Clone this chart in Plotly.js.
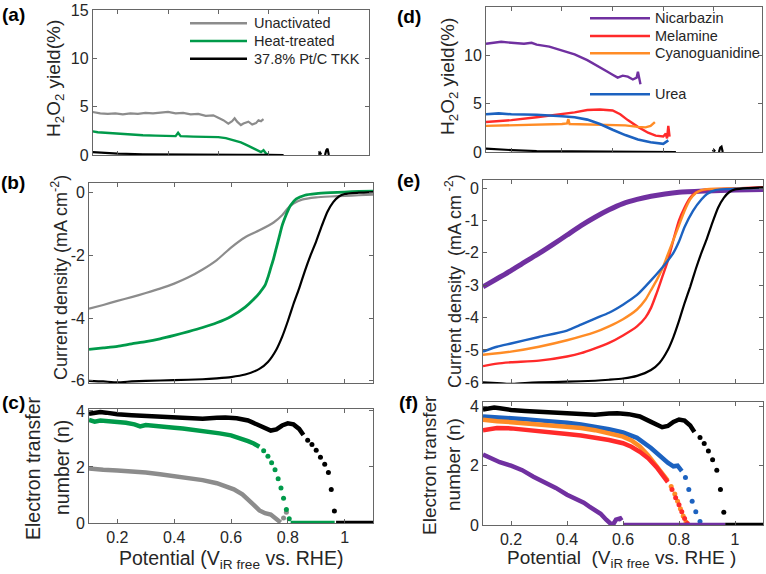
<!DOCTYPE html>
<html>
<head>
<meta charset="utf-8">
<script src="https://cdn.plot.ly/plotly-3.0.1.min.js"></script>
<style>
  html, body { margin: 0; padding: 0; background: #ffffff; }
  #chart { width: 766px; height: 574px; }
</style>
</head>
<body>
<div id="chart"></div>
<script>
// ---------- (a) H2O2 yield, catalyst treatment ----------
const aUnactX = [0.10,0.13,0.16,0.19,0.22,0.25,0.28,0.31,0.34,0.37,0.40,0.43,0.46,0.49,0.52,0.55,0.58,0.60,0.62,0.64,0.655,0.665,0.675,0.69,0.70,0.72,0.735,0.75,0.76,0.77,0.78];
const aUnactY = [4.45,4.30,4.25,4.30,4.20,4.30,4.25,4.35,4.30,4.40,4.45,4.30,4.35,4.20,4.25,4.05,4.10,3.85,3.60,3.25,3.50,3.80,3.45,3.10,3.25,3.45,3.15,3.30,3.60,3.50,3.70];
const aHeatX = [0.10,0.12,0.15,0.20,0.25,0.30,0.35,0.40,0.43,0.44,0.45,0.50,0.55,0.60,0.63,0.66,0.69,0.72,0.74,0.76,0.77,0.78,0.79,0.80];
const aHeatY = [2.45,2.35,2.30,2.20,2.10,2.05,2.00,1.95,1.95,2.30,1.95,1.90,1.90,1.85,1.75,1.55,1.30,0.95,0.70,0.50,0.30,0.50,0.15,0.05];
const aPtX = [0.10,0.13,0.16,0.20,0.30,0.40,0.50,0.60,0.70,0.80,0.86,null,1.000,1.005,1.010,null,1.025,1.030,1.035,1.040];
const aPtY = [0.30,0.25,0.20,0.15,0.08,0.05,0.04,0.03,0.02,0.01,0.00,null,0.05,0.25,0.05,null,0.00,0.50,0.65,0.00];

// ---------- (b) current density, catalyst treatment ----------
const bUnactX = [0.10,0.15,0.20,0.25,0.30,0.35,0.40,0.45,0.50,0.55,0.60,0.65,0.70,0.75,0.78,0.80,0.82,0.85,0.90,0.95,1.00,1.05,1.10];
const bUnactY = [-3.70,-3.58,-3.45,-3.33,-3.20,-3.06,-2.90,-2.70,-2.45,-2.15,-1.75,-1.42,-1.20,-0.95,-0.72,-0.50,-0.35,-0.22,-0.15,-0.12,-0.10,-0.08,-0.06];
const bHeatX = [0.10,0.15,0.20,0.25,0.30,0.35,0.40,0.45,0.50,0.55,0.60,0.65,0.68,0.70,0.72,0.73,0.74,0.75,0.76,0.77,0.78,0.79,0.80,0.81,0.83,0.86,0.90,0.95,1.00,1.05,1.10];
const bHeatY = [-5.00,-4.95,-4.90,-4.82,-4.75,-4.66,-4.55,-4.43,-4.30,-4.15,-3.95,-3.65,-3.40,-3.20,-2.95,-2.70,-2.40,-2.10,-1.75,-1.40,-1.05,-0.80,-0.58,-0.40,-0.20,-0.08,-0.03,0.00,0.02,0.04,0.05];
const bPtX = [0.10,0.15,0.20,0.25,0.30,0.40,0.50,0.55,0.60,0.65,0.70,0.73,0.76,0.78,0.80,0.82,0.84,0.86,0.88,0.90,0.92,0.94,0.96,0.98,1.00,1.05,1.10];
const bPtY = [-6.00,-6.02,-6.05,-6.02,-6.00,-5.98,-5.95,-5.92,-5.88,-5.80,-5.62,-5.40,-5.00,-4.60,-4.10,-3.55,-3.05,-2.50,-2.00,-1.55,-1.05,-0.60,-0.30,-0.12,-0.04,0.00,0.02];

// ---------- (c) electron transfer number, catalyst treatment ----------
const cPtX = [0.10,0.12,0.14,0.16,0.18,0.20,0.25,0.30,0.35,0.40,0.45,0.50,0.55,0.58,0.62,0.66,0.70,0.72,0.74,0.76,0.78,0.80,0.82,0.84,0.855];
const cPtY = [3.90,3.93,3.96,3.94,3.90,3.88,3.85,3.82,3.79,3.76,3.73,3.72,3.76,3.77,3.74,3.66,3.48,3.37,3.30,3.34,3.48,3.56,3.52,3.36,3.14];
const cPtDotX = [0.870,0.885,0.900,0.915,0.930,0.943,0.953,0.964];
const cPtDotY = [2.95,2.80,2.60,2.35,2.10,1.80,1.20,0.43];
const cPtZeroX = [0.97,1.10];
const cPtZeroY = [0,0];
const cHeatX = [0.10,0.12,0.14,0.16,0.18,0.20,0.23,0.26,0.28,0.30,0.33,0.36,0.40,0.43,0.46,0.50,0.53,0.56,0.60,0.63,0.66,0.68,0.70];
const cHeatY = [3.68,3.62,3.66,3.65,3.63,3.62,3.58,3.52,3.45,3.50,3.46,3.44,3.40,3.37,3.34,3.30,3.26,3.20,3.13,3.04,2.92,2.84,2.72];
const cHeatDotX = [0.715,0.730,0.743,0.755,0.766,0.776,0.785,0.795,0.805];
const cHeatDotY = [2.58,2.38,2.15,1.90,1.58,1.25,0.88,0.48,0.15];
const cHeatZeroX = [0.81,0.965];
const cHeatZeroY = [0,0];
const cUnactX = [0.10,0.12,0.15,0.20,0.25,0.30,0.35,0.40,0.45,0.50,0.55,0.58,0.61,0.64,0.66,0.68,0.70,0.72,0.74,0.76,0.775];
const cUnactY = [1.95,1.92,1.90,1.87,1.85,1.80,1.74,1.68,1.62,1.53,1.42,1.33,1.20,1.02,0.85,0.65,0.45,0.35,0.30,0.12,0.02];
const cUnactDotX = [0.785,0.795];
const cUnactDotY = [0.18,0.38];

// ---------- (d) H2O2 yield, nitrogen precursors ----------
const dNicX = [0.10,0.13,0.16,0.20,0.25,0.28,0.30,0.35,0.40,0.45,0.50,0.55,0.58,0.60,0.62,0.64,0.66,0.68,0.695,0.70,0.705,0.71];
const dNicY = [11.2,11.3,11.4,11.3,11.2,11.3,11.1,10.9,10.5,10.1,9.5,8.8,8.3,8.0,7.7,7.9,7.8,7.5,7.7,8.3,7.6,7.0];
const dMelX = [0.10,0.20,0.30,0.40,0.45,0.50,0.55,0.60,0.63,0.66,0.70,0.74,0.77,0.80,0.81,0.815,0.82,0.825];
const dMelY = [3.1,3.3,3.6,3.9,4.1,4.35,4.4,4.3,3.9,3.3,2.6,2.0,1.7,1.6,1.9,1.4,2.7,1.6];
const dCyaX = [0.10,0.20,0.30,0.40,0.42,0.425,0.43,0.50,0.60,0.65,0.70,0.73,0.75,0.767];
const dCyaY = [2.7,2.75,2.85,2.9,2.95,3.4,2.9,2.85,2.85,2.75,2.6,2.55,2.7,3.1];
const dUreaX = [0.10,0.15,0.20,0.30,0.40,0.45,0.50,0.55,0.60,0.65,0.70,0.75,0.80,0.82];
const dUreaY = [3.9,4.0,3.9,3.85,3.7,3.6,3.35,2.9,2.3,1.75,1.3,1.0,0.85,1.2];
const dPtX = [0.10,0.15,0.20,0.30,0.50,0.70,0.80,0.85,null,0.995,1.000,1.005,null,1.020,1.025,1.030,1.035];
const dPtY = [0.35,0.25,0.20,0.10,0.05,0.05,0.02,0.00,null,0.05,0.20,0.05,null,0.00,0.45,0.55,0.00];

// ---------- (e) current density, nitrogen precursors ----------
const eNicX = [0.10,0.15,0.20,0.25,0.30,0.35,0.40,0.45,0.50,0.55,0.60,0.65,0.70,0.75,0.80,0.90,1.00,1.10];
const eNicY = [-3.05,-2.80,-2.55,-2.28,-2.02,-1.74,-1.45,-1.16,-0.90,-0.67,-0.48,-0.35,-0.25,-0.18,-0.13,-0.09,-0.06,-0.04];
const eMelX = [0.10,0.15,0.20,0.30,0.40,0.45,0.50,0.55,0.60,0.65,0.68,0.70,0.72,0.74,0.76,0.78,0.80,0.82,0.84,0.86,0.90,1.00,1.10];
const eMelY = [-5.50,-5.42,-5.38,-5.33,-5.20,-5.10,-4.95,-4.78,-4.55,-4.27,-4.00,-3.70,-3.25,-2.75,-2.25,-1.60,-1.00,-0.60,-0.30,-0.14,-0.04,-0.01,0.03];
const eCyaX = [0.10,0.20,0.30,0.40,0.50,0.55,0.60,0.65,0.68,0.70,0.72,0.74,0.76,0.78,0.80,0.82,0.84,0.86,0.88,0.90,1.00,1.10];
const eCyaY = [-5.15,-5.05,-4.90,-4.70,-4.45,-4.27,-4.05,-3.75,-3.45,-3.15,-2.85,-2.50,-2.05,-1.60,-1.15,-0.70,-0.35,-0.15,-0.06,-0.03,-0.01,0.00];
const eUreaX = [0.10,0.15,0.20,0.30,0.40,0.45,0.50,0.55,0.60,0.65,0.70,0.75,0.78,0.80,0.82,0.85,0.88,0.90,0.93,1.00,1.10];
const eUreaY = [-5.05,-4.90,-4.80,-4.60,-4.40,-4.22,-4.03,-3.85,-3.60,-3.30,-2.85,-2.35,-2.00,-1.65,-1.20,-0.70,-0.35,-0.18,-0.06,-0.02,0.00];
const ePtX = bPtX;
const ePtY = bPtY;

// ---------- (f) electron transfer number, nitrogen precursors ----------
const fPtX = cPtX, fPtY = cPtY, fPtDotX = [0.875,0.890,0.905,0.920,0.935,0.948,0.960], fPtDotY = [2.95,2.75,2.50,2.20,1.85,1.20,0.43];
const fPtZeroX = [0.965,1.10], fPtZeroY = [0,0];
const fUreaX = [0.10,0.15,0.20,0.25,0.30,0.35,0.40,0.45,0.50,0.55,0.60,0.65,0.70,0.73,0.76,0.78,0.795,0.81];
const fUreaY = [3.66,3.64,3.60,3.57,3.53,3.50,3.45,3.39,3.32,3.23,3.12,2.94,2.60,2.33,2.10,1.98,2.00,1.82];
const fUreaDotX = [0.823,0.835,0.847,0.860,0.875];
const fUreaDotY = [1.60,1.20,0.80,0.45,0.12];
const fCyaX = [0.10,0.12,0.15,0.20,0.25,0.30,0.35,0.40,0.45,0.50,0.55,0.60,0.63,0.66,0.69,0.72,0.74,0.76];
const fCyaY = [3.55,3.52,3.50,3.47,3.43,3.40,3.36,3.32,3.27,3.20,3.10,2.98,2.85,2.65,2.35,2.00,1.75,1.50];
const fCyaDotX = [0.772,0.785,0.795,0.805,0.815,0.825];
const fCyaDotY = [1.30,1.05,0.80,0.55,0.30,0.10];
const fMelX = [0.10,0.12,0.15,0.20,0.25,0.30,0.35,0.40,0.45,0.50,0.55,0.60,0.63,0.66,0.69,0.72,0.74,0.76];
const fMelY = [3.20,3.23,3.27,3.26,3.22,3.17,3.12,3.07,3.02,2.95,2.87,2.76,2.64,2.47,2.25,1.95,1.72,1.45];
const fMelDotX = [0.775,0.788,0.800,0.810,0.820,0.830];
const fMelDotY = [1.20,0.92,0.68,0.45,0.22,0.05];
const fNicX = [0.10,0.13,0.16,0.20,0.24,0.28,0.32,0.36,0.40,0.44,0.46,0.48,0.50,0.52,0.54,0.555,0.565,0.575,0.59,0.595];
const fNicY = [2.38,2.25,2.12,2.00,1.85,1.63,1.45,1.25,1.02,0.85,0.75,0.62,0.52,0.38,0.18,0.05,0.02,0.18,0.22,0.15];
const fNicZeroX = [0.60,0.965], fNicZeroY = [0,0];

// ---------- labels ----------
const legendA = ['Unactivated', 'Heat-treated', '37.8% Pt/C TKK'];
const legendD = ['Nicarbazin', 'Melamine', 'Cyanoguanidine', 'Urea'];
const panelTags = ['(a)', '(b)', '(c)', '(d)', '(e)', '(f)'];
const xTickVals = [0.2, 0.4, 0.6, 0.8, 1.0];
const xTickText = ['0.2', '0.4', '0.6', '0.8', '1'];

// ---------- styling ----------
const GRAY = '#8c8c8c', GREEN = '#009a4a', BLACK = '#000000';
const PURPLE = '#7030a0', RED = '#ff2a2a', ORANGE = '#ff8c26', BLUE = '#1c62c0';
const FONT = 'Liberation Sans, Arial, Helvetica, sans-serif';
const TXT = '#262626';
const AXC = '#555555';
const W = 766, H = 574;
const px = v => v / W;
const py = v => 1 - v / H;

function line(xa, ya, xs, ys, color, width, smooth) {
  const ln = { color: color, width: width };
  if (smooth) { ln.shape = 'spline'; ln.smoothing = 0.6; }
  return { x: xs, y: ys, xaxis: xa, yaxis: ya, type: 'scatter', mode: 'lines',
           line: ln, hoverinfo: 'skip', showlegend: false, connectgaps: false };
}
function dots(xa, ya, xs, ys, color, size) {
  return { x: xs, y: ys, xaxis: xa, yaxis: ya, type: 'scatter', mode: 'markers',
           marker: { color: color, size: size, line: { width: 0 } }, hoverinfo: 'skip', showlegend: false };
}

const traces = [
  // (a)
  line('x', 'y', aUnactX, aUnactY, GRAY, 2.2),
  line('x', 'y', aHeatX, aHeatY, GREEN, 2.4),
  line('x', 'y', aPtX, aPtY, BLACK, 2.2),
  // (b)
  line('x2', 'y2', bUnactX, bUnactY, GRAY, 2.2, true),
  line('x2', 'y2', bHeatX, bHeatY, GREEN, 2.8, true),
  line('x2', 'y2', bPtX, bPtY, BLACK, 2.2, true),
  // (c)
  line('x3', 'y3', cUnactX, cUnactY, GRAY, 4.5),
  dots('x3', 'y3', cUnactDotX, cUnactDotY, GRAY, 5),
  line('x3', 'y3', cHeatX, cHeatY, GREEN, 4.5),
  dots('x3', 'y3', cHeatDotX, cHeatDotY, GREEN, 5),
  line('x3', 'y3', cHeatZeroX, cHeatZeroY, GREEN, 4.5),
  line('x3', 'y3', cPtX, cPtY, BLACK, 4.5),
  dots('x3', 'y3', cPtDotX, cPtDotY, BLACK, 5),
  line('x3', 'y3', cPtZeroX, cPtZeroY, BLACK, 4.5),
  // (d)
  line('x4', 'y4', dNicX, dNicY, PURPLE, 2.4),
  line('x4', 'y4', dMelX, dMelY, RED, 2.4),
  line('x4', 'y4', dCyaX, dCyaY, ORANGE, 2.4),
  line('x4', 'y4', dUreaX, dUreaY, BLUE, 2.6),
  line('x4', 'y4', dPtX, dPtY, BLACK, 2.2),
  // (e)
  line('x5', 'y5', eNicX, eNicY, PURPLE, 5, true),
  line('x5', 'y5', eMelX, eMelY, RED, 2.4, true),
  line('x5', 'y5', eCyaX, eCyaY, ORANGE, 2.4, true),
  line('x5', 'y5', eUreaX, eUreaY, BLUE, 2.4, true),
  line('x5', 'y5', ePtX, ePtY, BLACK, 2.2, true),
  // (f)
  line('x6', 'y6', fUreaX, fUreaY, BLUE, 4.5),
  dots('x6', 'y6', fUreaDotX, fUreaDotY, BLUE, 5),
  line('x6', 'y6', fCyaX, fCyaY, ORANGE, 4.5),
  dots('x6', 'y6', fCyaDotX, fCyaDotY, ORANGE, 5),
  line('x6', 'y6', fMelX, fMelY, RED, 4.5),
  dots('x6', 'y6', fMelDotX, fMelDotY, RED, 5),
  line('x6', 'y6', fNicX, fNicY, PURPLE, 4.5),
  line('x6', 'y6', fNicZeroX, fNicZeroY, PURPLE, 4.5),
  line('x6', 'y6', fPtX, fPtY, BLACK, 4.5),
  dots('x6', 'y6', fPtDotX, fPtDotY, BLACK, 5),
  line('x6', 'y6', fPtZeroX, fPtZeroY, BLACK, 4.5)
];

// axis boxes: [left, right, top, bottom] in pixels
const boxes = {
  a: [92.7, 369, 10, 155], b: [89, 373, 183, 383], c: [89, 373, 409, 523],
  d: [486, 762, 7, 152],   e: [483, 763, 180, 383], f: [483, 763, 402, 525]
};
function xAxis(box, range, anchor, labels) {
  return { domain: [px(box[0]), px(box[1])], range: range, anchor: anchor,
           showline: true, mirror: 'ticks', linecolor: AXC, linewidth: 0.9,
           ticks: 'inside', ticklen: 4, tickwidth: 0.9, tickcolor: AXC,
           tickvals: xTickVals, ticktext: xTickText, showticklabels: labels,
           tickfont: { family: FONT, size: 16, color: TXT },
           showgrid: false, zeroline: false, fixedrange: true };
}
function yAxis(box, range, anchor, vals) {
  return { domain: [py(box[3]), py(box[2])], range: range, anchor: anchor,
           showline: true, mirror: 'ticks', linecolor: AXC, linewidth: 0.9,
           ticks: 'inside', ticklen: 4, tickwidth: 0.9, tickcolor: AXC,
           tickvals: vals, ticktext: vals.map(v => String(v)),
           tickfont: { family: FONT, size: 16, color: TXT },
           showgrid: false, zeroline: false, fixedrange: true };
}

const ann = [];
function text(x, y, t, size, opts) {
  ann.push(Object.assign({ xref: 'paper', yref: 'paper', x: px(x), y: py(y), text: t,
    showarrow: false, xanchor: 'center', yanchor: 'middle',
    font: { family: FONT, size: size, color: TXT } }, opts || {}));
}
// panel tags
const tagPos = [[13, 14], [13, 182], [13, 402], [409, 17], [409, 181], [409, 402]];
panelTags.forEach((t, i) => text(tagPos[i][0], tagPos[i][1], '<b>' + t + '</b>', 19, { font: { family: FONT, size: 19, color: '#000' } }));
// axis titles
text(55, 79, 'H<sub>2</sub>O<sub>2</sub> yield(%)', 19, { textangle: -90 });
text(449, 77, 'H<sub>2</sub>O<sub>2</sub> yield(%)', 19, { textangle: -90 });
text(59, 278, 'Current density (mA cm<sup>-2</sup>)', 18, { textangle: -90 });
text(453, 281, 'Current density\u00a0 (mA cm<sup> -2</sup>)', 18, { textangle: -90 });
text(33, 468, 'Electron transfer', 19.5, { textangle: -90 });
text(62, 468, 'number (n)', 19.5, { textangle: -90 });
text(429, 465, 'Electron transfer', 19, { textangle: -90 });
text(453, 465, 'number (n)', 19, { textangle: -90 });
text(231, 545, 'Potential (V<sub>iR free</sub> vs. RHE)', 19.5, { yanchor: 'top' });
text(621, 545, 'Potential\u00a0 (V<sub>iR free</sub> vs.\u00a0RHE\u00a0)', 19, { yanchor: 'top' });

// legends
const shapes = [];
const legA = [[legendA[0], GRAY, 23.3], [legendA[1], GREEN, 41], [legendA[2], BLACK, 58.7]];
legA.forEach(([t, c, y]) => {
  shapes.push({ type: 'line', xref: 'paper', yref: 'paper', x0: px(190), x1: px(247), y0: py(y), y1: py(y), line: { color: c, width: 2.4 } });
  text(252, y, t, 14.5, { xanchor: 'left' });
});
const legD = [[legendD[0], PURPLE, 18.3], [legendD[1], RED, 36], [legendD[2], ORANGE, 53.3], [legendD[3], BLUE, 94.3]];
legD.forEach(([t, c, y]) => {
  shapes.push({ type: 'line', xref: 'paper', yref: 'paper', x0: px(590), x1: px(650), y0: py(y), y1: py(y), line: { color: c, width: 2.4 } });
  text(653, y, t, 14.5, { xanchor: 'left' });
});

const layout = {
  width: W, height: H, autosize: false,
  margin: { l: 0, r: 0, t: 0, b: 0, pad: 0 },
  paper_bgcolor: '#ffffff', plot_bgcolor: '#ffffff',
  showlegend: false,
  xaxis:  xAxis(boxes.a, [0.1, 1.2], 'y', false),
  yaxis:  yAxis(boxes.a, [0, 15], 'x', [0, 5, 10, 15]),
  xaxis2: xAxis(boxes.b, [0.1, 1.1], 'y2', false),
  yaxis2: yAxis(boxes.b, [-6.07, 0.31], 'x2', [-6, -4, -2, 0]),
  xaxis3: xAxis(boxes.c, [0.1, 1.1], 'y3', true),
  yaxis3: yAxis(boxes.c, [0, 4.07], 'x3', [0, 2, 4]),
  xaxis4: xAxis(boxes.d, [0.1, 1.19], 'y4', false),
  yaxis4: yAxis(boxes.d, [0, 15], 'x4', [0, 5, 10, 15]),
  xaxis5: xAxis(boxes.e, [0.1, 1.1], 'y5', false),
  yaxis5: yAxis(boxes.e, [-6.02, 0.25], 'x5', [-6, -5, -4, -3, -2, -1, 0]),
  xaxis6: xAxis(boxes.f, [0.1, 1.1], 'y6', true),
  yaxis6: yAxis(boxes.f, [0, 4.15], 'x6', [0, 2, 4]),
  annotations: ann,
  shapes: shapes
};

Plotly.newPlot('chart', traces, layout, { staticPlot: true, displayModeBar: false });
</script>
</body>
</html>
